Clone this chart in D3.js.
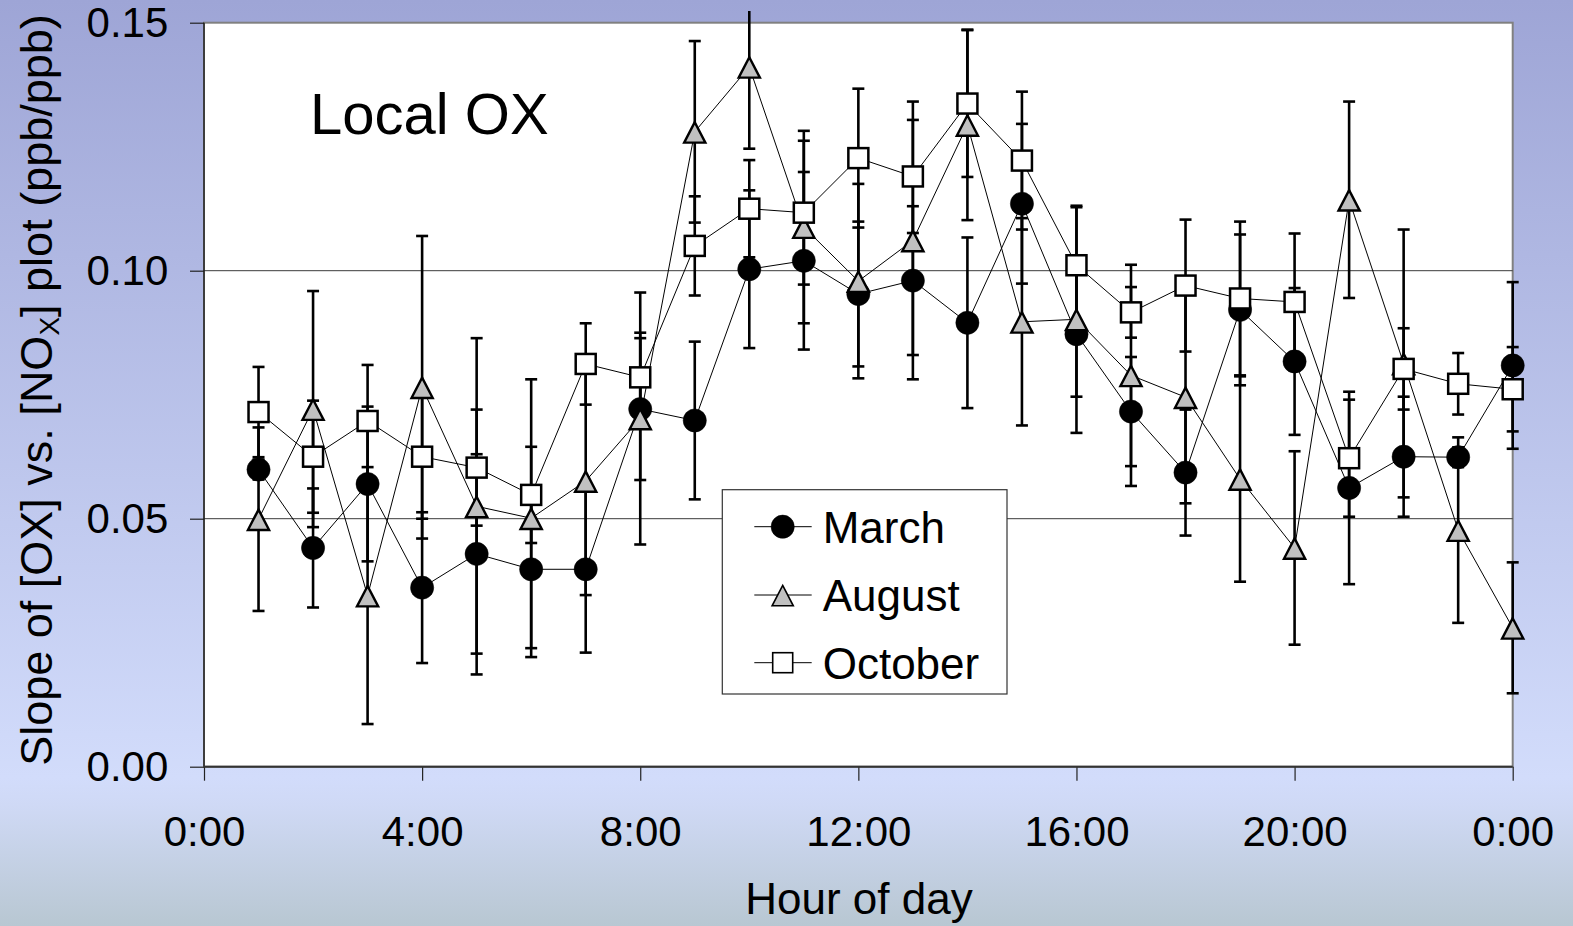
<!DOCTYPE html>
<html>
<head>
<meta charset="utf-8">
<script src="https://cdn.jsdelivr.net/npm/d3@7"></script>
<style>
  html, body { margin: 0; padding: 0; overflow: hidden; }
  svg { display: block; font-family: "Liberation Sans", Arial, sans-serif; }
</style>
</head>
<body>
<svg id="chart" width="1573" height="926"></svg>
<script>
// ---------------- data ----------------
const hours = [1,2,3,4,5,6,7,8,9,10,11,12,13,14,15,16,17,18,19,20,21,22,23,24];

const marchValues = [0.0599,0.0441,0.0570,0.0361,0.0429,0.0398,0.0398,0.0721,0.0698,0.1003,0.1020,0.0953,
                     0.0980,0.0895,0.1135,0.0872,0.0716,0.0593,0.0921,0.0817,0.0562,0.0625,0.0624,0.0809];
const marchErrors = [0.0020,0.0120,0.0156,0.0152,0.0201,0.0159,0.0168,0.0143,0.0159,0.0159,0.0179,0.0146,
                     0.0150,0.0172,0.0161,0.0126,0.0110,0.0127,0.0152,0.0148,0.0194,0.0121,0.0020,0.0168];

const augustValues = [0.0499,0.0721,0.0345,0.0765,0.0525,0.0501,0.0576,0.0702,0.1280,0.1411,0.1088,0.0979,
                      0.1061,0.1294,0.0897,0.0902,0.0789,0.0745,0.0580,0.0441,0.1143,0.0813,0.0477,0.0280];
const augustErrors = [0.0185,0.0238,0.0259,0.0305,0.0339,0.0280,0.0230,0.0254,0.0183,0.0165,0.0194,0.0196,
                      0.0280,0.0192,0.0209,0.0229,0.0223,0.0214,0.0207,0.0195,0.0198,0.0270,0.0187,0.0132];

const octoberValues = [0.0715,0.0625,0.0697,0.0625,0.0603,0.0548,0.0812,0.0785,0.1050,0.1125,0.1117,0.1227,
                       0.1190,0.1337,0.1222,0.1011,0.0916,0.0970,0.0944,0.0937,0.0622,0.0802,0.0772,0.0761];
const octoberErrors = [0.0091,0.0113,0.0113,0.0125,0.0117,0.0097,0.0082,0.0090,0.0100,0.0098,0.0145,0.0140,
                       0.0114,0.0148,0.0139,0.0117,0.0051,0.0133,0.0155,0.0138,0.0118,0.0082,0.0062,0.0085];

const seriesNames = ["March", "August", "October"];
const xTicks = [0, 4, 8, 12, 16, 20, 24];
const yTicks = [0, 0.05, 0.10, 0.15];
const gridValues = [0.05, 0.10];

// ---------------- layout ----------------
const W = 1573, H = 926;
const plot = { left: 204, right: 1512.7, top: 22.7, bottom: 766.7 };

const svg = d3.select("#chart");

// background gradient
const defs = svg.append("defs");
const grad = defs.append("linearGradient").attr("id", "bg").attr("x1", 0).attr("y1", 0).attr("x2", 0).attr("y2", 1);
grad.append("stop").attr("offset", "0%").attr("stop-color", "#9ea5d6");
grad.append("stop").attr("offset", "84%").attr("stop-color", "#d2dcfb");
grad.append("stop").attr("offset", "87%").attr("stop-color", "#cfd9f5");
grad.append("stop").attr("offset", "100%").attr("stop-color", "#b8c7d2");
svg.append("rect").attr("width", W).attr("height", H).attr("fill", "url(#bg)");

defs.append("clipPath").attr("id", "clip")
  .append("rect").attr("x", 0).attr("y", 11).attr("width", W).attr("height", H - 11);

const x = d3.scaleLinear().domain([0, 24]).range([plot.left, plot.right]);
const y = d3.scaleLinear().domain([0, 0.15]).range([plot.bottom, plot.top]);

// plot area
svg.append("rect")
  .attr("x", plot.left).attr("y", plot.top)
  .attr("width", plot.right - plot.left).attr("height", plot.bottom - plot.top)
  .attr("fill", "#ffffff").attr("stroke", "#808080").attr("stroke-width", 2);

// gridlines
svg.append("g").selectAll("line").data(gridValues).join("line")
  .attr("x1", plot.left).attr("x2", plot.right)
  .attr("y1", d => y(d)).attr("y2", d => y(d))
  .attr("stroke", "#3a3a3a").attr("stroke-width", 1);

// axes
const yAxis = d3.axisLeft(y).tickValues(yTicks).tickFormat(d3.format(".2f")).tickSize(14).tickPadding(21.7);
const gy = svg.append("g").attr("transform", `translate(${plot.left},0)`).call(yAxis);
gy.select(".domain").remove();
gy.selectAll(".tick line").attr("stroke", "#222").attr("stroke-width", 1.2);
gy.selectAll(".tick text").attr("font-size", 42).attr("fill", "#000")
  .attr("font-family", "'Liberation Sans', Arial, sans-serif");

const xAxis = d3.axisBottom(x).tickValues(xTicks).tickFormat(d => (d % 24) + ":00").tickSize(14).tickPadding(35.5);
const gx = svg.append("g").attr("transform", `translate(0,${plot.bottom})`).call(xAxis);
gx.select(".domain").remove();
gx.selectAll(".tick line").attr("stroke", "#222").attr("stroke-width", 1.2);
gx.selectAll(".tick text").attr("font-size", 42).attr("fill", "#000")
  .attr("font-family", "'Liberation Sans', Arial, sans-serif");

// axis lines
svg.append("line").attr("x1", plot.left).attr("x2", plot.left).attr("y1", plot.top).attr("y2", plot.bottom)
  .attr("stroke", "#1a1a1a").attr("stroke-width", 1.3);
svg.append("line").attr("x1", plot.left).attr("x2", plot.right).attr("y1", plot.bottom).attr("y2", plot.bottom)
  .attr("stroke", "#333").attr("stroke-width", 2);

// series
const series = [
  { name: seriesNames[0], values: marchValues, errors: marchErrors, shape: "circle" },
  { name: seriesNames[1], values: augustValues, errors: augustErrors, shape: "triangle" },
  { name: seriesNames[2], values: octoberValues, errors: octoberErrors, shape: "square" }
].map(s => ({ ...s, points: hours.map((h, i) => ({ h, v: s.values[i], e: s.errors[i] })) }));

const chartG = svg.append("g").attr("clip-path", "url(#clip)");

// error bars (all series, beneath markers)
const capHalf = 6;
series.forEach(s => {
  const g = chartG.append("g").attr("stroke", "#000").attr("stroke-width", 2.6).attr("fill", "none");
  g.selectAll("line.v").data(s.points).join("line").attr("class", "v")
    .attr("x1", d => x(d.h)).attr("x2", d => x(d.h))
    .attr("y1", d => y(d.v + d.e)).attr("y2", d => y(d.v - d.e));
  g.selectAll("line.t").data(s.points).join("line").attr("class", "t")
    .attr("x1", d => x(d.h) - capHalf).attr("x2", d => x(d.h) + capHalf)
    .attr("y1", d => y(d.v + d.e)).attr("y2", d => y(d.v + d.e));
  g.selectAll("line.b").data(s.points).join("line").attr("class", "b")
    .attr("x1", d => x(d.h) - capHalf).attr("x2", d => x(d.h) + capHalf)
    .attr("y1", d => y(d.v - d.e)).attr("y2", d => y(d.v - d.e));
});

// connecting lines
const line = d3.line().x(d => x(d.h)).y(d => y(d.v));
series.forEach(s => {
  chartG.append("path").datum(s.points).attr("d", line)
    .attr("fill", "none").attr("stroke", "#000").attr("stroke-width", 1);
});

// markers
function drawMarker(sel, shape) {
  if (shape === "circle") {
    sel.append("circle").attr("r", 11.6).attr("fill", "#000").attr("stroke", "#000").attr("stroke-width", 0.5);
  } else if (shape === "triangle") {
    sel.append("path").attr("d", "M0,-9.6L10.6,10.8L-10.6,10.8Z")
      .attr("fill", "#c0c0c0").attr("stroke", "#000").attr("stroke-width", 2.4).attr("stroke-linejoin", "miter");
  } else {
    sel.append("rect").attr("x", -10).attr("y", -10).attr("width", 20).attr("height", 20)
      .attr("fill", "#fff").attr("stroke", "#000").attr("stroke-width", 2.5);
  }
}
series.forEach(s => {
  chartG.append("g").selectAll("g").data(s.points).join("g")
    .attr("transform", d => `translate(${x(d.h)},${y(d.v)})`)
    .each(function () { drawMarker(d3.select(this), s.shape); });
});

// "Local OX" label
svg.append("text").attr("x", 310).attr("y", 134).attr("font-size", 58).attr("fill", "#000").text("Local OX");

// legend
const legend = svg.append("g");
legend.append("rect").attr("x", 722.3).attr("y", 489.7).attr("width", 284.7).attr("height", 204.3)
  .attr("fill", "#fff").attr("stroke", "#333").attr("stroke-width", 1.2);
const legendRows = [526.7, 595, 662.7];
series.forEach((s, i) => {
  const row = legend.append("g").attr("transform", `translate(0,${legendRows[i]})`);
  row.append("line").attr("x1", 754.3).attr("x2", 811.7).attr("y1", 0).attr("y2", 0)
    .attr("stroke", "#000").attr("stroke-width", 1);
  const m = row.append("g").attr("transform", "translate(782.7,0)");
  drawMarker(m, s.shape);
  if (s.shape !== "circle") m.select("*").attr("stroke-width", 1.6);
  row.append("text").attr("x", 822.7).attr("y", 15.8).attr("font-size", 44).attr("fill", "#000").text(s.name);
});

// axis titles
svg.append("text").attr("x", 859).attr("y", 914).attr("text-anchor", "middle")
  .attr("font-size", 44).attr("fill", "#000").text("Hour of day");

const yt = svg.append("text").attr("transform", "translate(52,390) rotate(-90)")
  .attr("text-anchor", "middle").attr("font-size", 45).attr("fill", "#000");
yt.append("tspan").text("Slope of [OX] vs. [NO");
yt.append("tspan").attr("font-size", 28).attr("dy", 7).text("X");
yt.append("tspan").attr("dy", -7).text("] plot (ppb/ppb)");
</script>
</body>
</html>
